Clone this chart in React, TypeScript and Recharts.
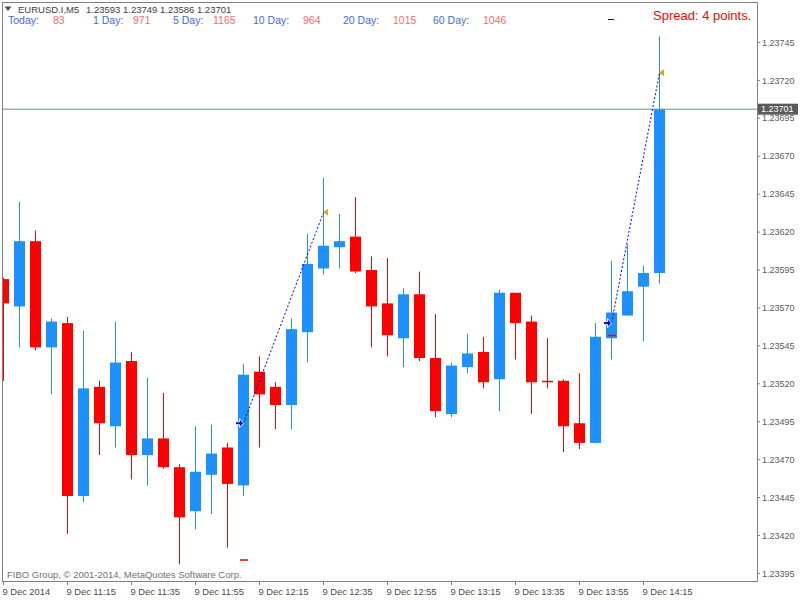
import { ComposedChart, Bar, Line, Scatter, XAxis, YAxis, ReferenceLine } from "recharts";

// EURUSD.I, M5 — 9 Dec 2014
const times = [
  "10:55", "11:00", "11:05", "11:10", "11:15", "11:20", "11:25", "11:30", "11:35", "11:40",
  "11:45", "11:50", "11:55", "12:00", "12:05", "12:10", "12:15", "12:20", "12:25", "12:30",
  "12:35", "12:40", "12:45", "12:50", "12:55", "13:00", "13:05", "13:10", "13:15", "13:20",
  "13:25", "13:30", "13:35", "13:40", "13:45", "13:50", "13:55", "14:00", "14:05", "14:10",
  "14:15", "14:20",
];
const opens = [
  1.23589, 1.23571, 1.23614, 1.23544, 1.2356, 1.23446, 1.23518, 1.23492, 1.23535, 1.23473,
  1.23484, 1.23465, 1.23436, 1.2346, 1.23478, 1.23453, 1.23528, 1.23518, 1.23506, 1.23554,
  1.23596, 1.2361, 1.23617, 1.23595, 1.23573, 1.2355, 1.23579, 1.23537, 1.235, 1.23531,
  1.23541, 1.23523, 1.2358, 1.23561, 1.23522, 1.23522, 1.23494, 1.23481, 1.2355, 1.23565,
  1.23584, 1.23593,
];
const highs = [
  1.2359, 1.2364, 1.23621, 1.23563, 1.23564, 1.23555, 1.23522, 1.23561, 1.23541, 1.23524,
  1.23514, 1.23467, 1.23492, 1.23493, 1.23481, 1.23533, 1.23538, 1.23521, 1.23563, 1.23619,
  1.23656, 1.23632, 1.23643, 1.23604, 1.23603, 1.23583, 1.23594, 1.23566, 1.23534, 1.23553,
  1.23551, 1.23582, 1.2358, 1.23565, 1.2355, 1.23523, 1.23527, 1.2356, 1.23601, 1.23612,
  1.23598, 1.23749,
];
const lows = [
  1.23522, 1.23544, 1.23542, 1.23513, 1.23421, 1.23442, 1.23473, 1.23478, 1.23457, 1.23453,
  1.23464, 1.23401, 1.23424, 1.23434, 1.23412, 1.23446, 1.23478, 1.2349, 1.2349, 1.23534,
  1.23592, 1.23596, 1.23593, 1.23544, 1.23538, 1.23531, 1.23535, 1.23498, 1.23498, 1.23527,
  1.23517, 1.23502, 1.23536, 1.235, 1.23517, 1.23475, 1.23477, 1.23481, 1.23536, 1.23565,
  1.23548, 1.23586,
];
const closes = [
  1.23573, 1.23614, 1.23544, 1.23561, 1.23446, 1.23517, 1.23494, 1.23534, 1.23473, 1.23484,
  1.23465, 1.23432, 1.23462, 1.23474, 1.23454, 1.23526, 1.23513, 1.23506, 1.23556, 1.23599,
  1.23611, 1.23614, 1.23594, 1.23571, 1.23552, 1.23579, 1.23537, 1.23502, 1.23532, 1.2354,
  1.23521, 1.2358, 1.2356, 1.23521, 1.23521, 1.23492, 1.23481, 1.23551, 1.23567, 1.23581,
  1.23593, 1.23701,
];

const xTickIdx = [0, 4, 8, 12, 16, 20, 24, 28, 32, 36, 40];
const xTickLabels = [
  "9 Dec 2014", "9 Dec 11:15", "9 Dec 11:35", "9 Dec 11:55", "9 Dec 12:15", "9 Dec 12:35",
  "9 Dec 12:55", "9 Dec 13:15", "9 Dec 13:35", "9 Dec 13:55", "9 Dec 14:15",
];
const yTicks = [
  1.23395, 1.2342, 1.23445, 1.2347, 1.23495, 1.2352, 1.23545, 1.2357, 1.23595, 1.2362,
  1.23645, 1.2367, 1.23695, 1.2372, 1.23745,
];

// trades: open (buy arrow), close (gold arrow), stop level (red dash)
const tradeOpenIdx = [15, 38];
const tradeOpenPrice = [1.23494, 1.2356];
const tradeCloseIdx = [20, 41];
const tradeClosePrice = [1.23633, 1.23725];
const stopPrice = [1.23404, 1.23552];

const statLabels = ["Today:", "1 Day:", "5 Day:", "10 Day:", "20 Day:", "60 Day:"];
const statValues = [83, 971, 1165, 964, 1015, 1046];

const data = times.map((t, i) => ({
  i,
  t,
  o: opens[i],
  h: highs[i],
  l: lows[i],
  c: closes[i],
  range: [lows[i], highs[i]],
}));

const trades = tradeOpenIdx.map((idx, k) => [
  { i: idx, p: tradeOpenPrice[k] },
  { i: tradeCloseIdx[k], p: tradeClosePrice[k] },
]);
const openMarks = tradeOpenIdx.map((idx, k) => ({ i: idx, p: tradeOpenPrice[k] }));
const closeMarks = tradeCloseIdx.map((idx, k) => ({ i: idx, p: tradeClosePrice[k] }));
const stopMarks = tradeOpenIdx.map((idx, k) => ({ i: idx, p: stopPrice[k] }));

const FONT = "'Liberation Sans', Arial, sans-serif";
const UP = "#1E90FF";
const DOWN = "#FF0000";

function Candle(props: any) {
  const { x, y, width, height, payload } = props;
  if (x == null || payload == null) return null;
  const top = Math.min(y, y + height);
  const span = Math.abs(height);
  const k = payload.h === payload.l ? 0 : span / (payload.h - payload.l);
  const cx = Math.floor(x + width / 2) + 0.5;
  const up = payload.c > payload.o;
  const color = up ? UP : DOWN;
  const bTop = top + (payload.h - Math.max(payload.o, payload.c)) * k;
  const bH = Math.max(1, Math.abs(payload.o - payload.c) * k);
  return (
    <g>
      <line x1={cx} x2={cx} y1={top} y2={top + span} stroke={color} strokeWidth={1} />
      <rect x={cx - 5.5} y={bTop} width={11} height={bH} fill={color} />
    </g>
  );
}

function BuyArrow(props: any) {
  const { cx, cy } = props;
  if (cx == null) return null;
  const pts = [
    [-8, -1.5], [-4, -1.5], [-4, -4.5], [0, 0], [-4, 4.5], [-4, 1.5], [-8, 1.5],
  ].map(([a, b]) => `${cx + a},${cy + b}`).join(" ");
  return <polygon points={pts} fill="#0000FF" stroke="#ffffff" strokeWidth={1} />;
}

function CloseArrow(props: any) {
  const { cx, cy } = props;
  if (cx == null) return null;
  return (
    <polygon
      points={`${cx - 0.5},${cy} ${cx + 4.5},${cy - 3.5} ${cx + 4.5},${cy + 3.5}`}
      fill="#DAA520"
    />
  );
}

function StopDash(props: any) {
  const { cx, cy } = props;
  if (cx == null) return null;
  return <rect x={cx - 3.5} y={cy - 0.5} width={8} height={1.5} fill={DOWN} />;
}

function TimeTick(props: any) {
  const { x, y, payload } = props;
  const n = xTickIdx.indexOf(payload.value);
  return (
    <text x={x - 1} y={y + 1} dy="0.71em" textAnchor="start" fontSize={9.3} fontFamily={FONT} fill="#4a4a4a">
      {n >= 0 ? xTickLabels[n] : ""}
    </text>
  );
}

function PriceTag(props: any) {
  const { viewBox } = props;
  if (!viewBox) return null;
  const x = viewBox.x + viewBox.width + 1;
  const y = viewBox.y;
  return (
    <g>
      <rect x={x} y={y - 5.5} width={40} height={11} fill="#5a5a5a" />
      <text x={x + 3} y={y} dy="0.355em" fontSize={9} fontFamily={FONT} fill="#ffffff">
        {closes[closes.length - 1].toFixed(5)}
      </text>
    </g>
  );
}

const labelX = [8, 93, 173, 253, 343, 433];
const valueX = [53, 133, 213, 303, 393, 483];

export default function App() {
  const last = data[data.length - 1];
  return (
    <div style={{ position: "absolute", left: 0, top: 0, width: 800, height: 600, background: "#fff", fontFamily: FONT }}>
      <ComposedChart
        width={800}
        height={600}
        data={data}
        margin={{ top: 3, right: 0, bottom: 0, left: 2 }}
      >
        <XAxis
          type="number"
          dataKey="i"
          domain={[-0.09375, 47.09375]}
          allowDataOverflow
          ticks={xTickIdx}
          interval={0}
          height={19}
          axisLine={false}
          tickLine={{ stroke: "#808080" }}
          tickSize={4}
          tick={<TimeTick />}
        />
        <YAxis
          type="number"
          orientation="right"
          domain={[1.2339, 1.23771]}
          allowDataOverflow
          ticks={yTicks}
          interval={0}
          width={43}
          axisLine={false}
          tickLine={{ stroke: "#808080" }}
          tickSize={3}
          tick={{ fontSize: 9, fontFamily: FONT, fill: "#5a5a5a" }}
          tickFormatter={(v: number) => v.toFixed(5)}
        />
        <ReferenceLine y={last.c} stroke="#778899" strokeWidth={1} label={<PriceTag />} />
        <Bar dataKey="range" barSize={11} shape={<Candle />} isAnimationActive={false} />
        {trades.map((tr, k) => (
          <Line
            key={`tr-${k}`}
            data={tr}
            dataKey="p"
            type="linear"
            stroke="#0000FF"
            strokeWidth={1}
            strokeDasharray="2 2"
            dot={false}
            activeDot={false}
            isAnimationActive={false}
          />
        ))}
        <Scatter data={stopMarks} dataKey="p" shape={<StopDash />} isAnimationActive={false} />
        <Scatter data={openMarks} dataKey="p" shape={<BuyArrow />} isAnimationActive={false} />
        <Scatter data={closeMarks} dataKey="p" shape={<CloseArrow />} isAnimationActive={false} />
      </ComposedChart>

      {/* chart frame */}
      <div
        style={{
          position: "absolute", left: 2, top: 2, width: 756, height: 580,
          border: "1px solid #808080", boxSizing: "border-box", pointerEvents: "none",
        }}
      />

      {/* header */}
      <svg style={{ position: "absolute", left: 4, top: 6 }} width={9} height={6}>
        <polygon points="0.5,0.5 7.5,0.5 4,5" fill="#505050" />
      </svg>
      <div style={{ position: "absolute", left: 18, top: 5, fontSize: 9.5, lineHeight: "9.5px", color: "#3c3c3c", whiteSpace: "nowrap" }}>
        EURUSD.I,M5
      </div>
      <div style={{ position: "absolute", left: 86, top: 5, fontSize: 9.5, lineHeight: "9.5px", color: "#3c3c3c", whiteSpace: "nowrap" }}>
        {[last.o, last.h, last.l, last.c].map((v) => v.toFixed(5)).join(" ")}
      </div>
      {statLabels.map((s, k) => (
        <div key={s}>
          <div style={{ position: "absolute", left: labelX[k], top: 15, fontSize: 10.5, lineHeight: "10.5px", color: "#4169E1", whiteSpace: "nowrap" }}>
            {s}
          </div>
          <div style={{ position: "absolute", left: valueX[k], top: 15, fontSize: 10.5, lineHeight: "10.5px", color: "#F76B6B", whiteSpace: "nowrap" }}>
            {statValues[k]}
          </div>
        </div>
      ))}
      <div style={{ position: "absolute", left: 608, top: 19, width: 6, height: 1, background: "#0000C8" }} />
      <div style={{ position: "absolute", left: 653, top: 9, fontSize: 13, lineHeight: "13px", color: "#FF0000", whiteSpace: "nowrap" }}>
        Spread: 4 points.
      </div>

      {/* footer copyright */}
      <div style={{ position: "absolute", left: 7, top: 570, fontSize: 9.5, lineHeight: "9.5px", color: "#707070", whiteSpace: "nowrap" }}>
        FIBO Group, © 2001-2014, MetaQuotes Software Corp.
      </div>
    </div>
  );
}
